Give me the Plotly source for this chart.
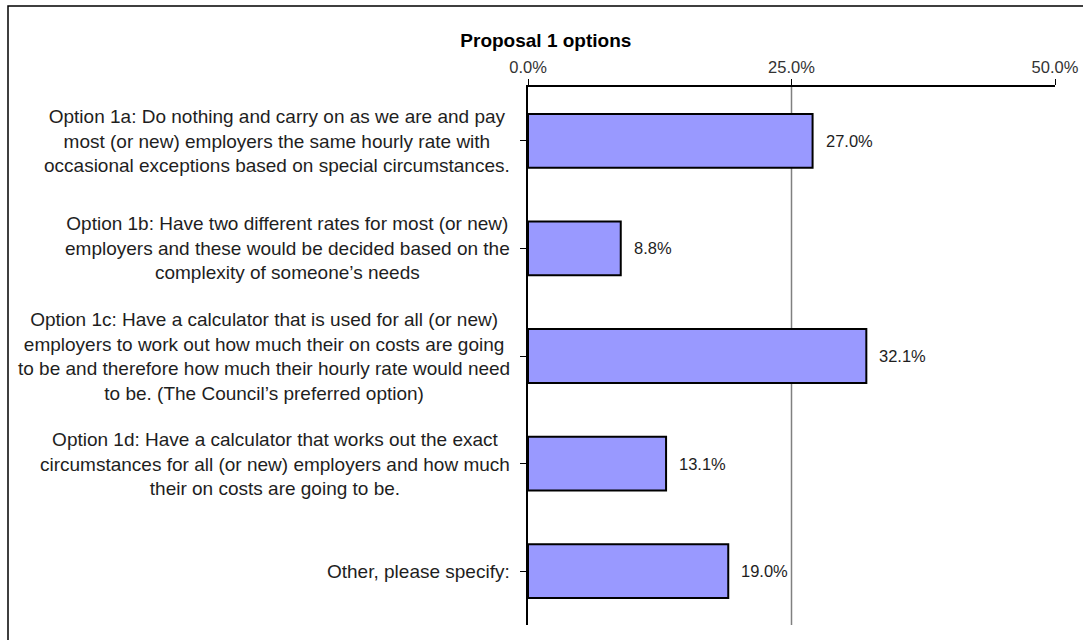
import plotly.graph_objects as go

# Survey responses for Proposal 1
categories = [
    "Option 1a: Do nothing and carry on as we are and pay<br>most (or new) employers the same hourly rate with<br>occasional exceptions based on special circumstances.",
    "Option 1b: Have two different rates for most (or new)<br>employers and these would be decided based on the<br>complexity of someone\u2019s needs",
    "Option 1c: Have a calculator that is used for all (or new)<br>employers to work out how much their on costs are going<br>to be and therefore how much their hourly rate would need<br>to be. (The Council\u2019s preferred option)",
    "Option 1d: Have a calculator that works out the exact<br>circumstances for all (or new) employers and how much<br>their on costs are going to be.",
    "Other, please specify:",
]
percentages = [27.0, 8.8, 32.1, 13.1, 19.0]
tick_values = [0, 25, 50]
tick_labels = ["0.0%", "25.0%", "50.0%"]
title_text = "Proposal 1 options"

W, H = 1083, 640
L, R, T, B = 528, 28, 87, 15
plot_w = W - L - R
plot_h = H - T - B

FONT = "Liberation Sans, Arial, sans-serif"
TEXT = "#1e1e1e"

idx = list(range(len(categories)))

fig = go.Figure()
fig.add_trace(go.Bar(
    x=percentages,
    y=idx,
    orientation="h",
    width=0.5,
    marker=dict(color="#9999FF", line=dict(color="#000000", width=2)),
    hoverinfo="skip",
))

annotations = []
# value labels just past the end of each bar
for i, v in zip(idx, percentages):
    annotations.append(dict(
        x=v, y=i, xref="x", yref="y", text=f"{v:.1f}%",
        showarrow=False, xanchor="left", yanchor="middle", xshift=11,
        font=dict(family=FONT, size=16.5, color=TEXT),
    ))
# category labels, centred text block anchored to the left of the axis
for i, c in zip(idx, categories):
    annotations.append(dict(
        x=0, y=i, xref="paper", yref="y", text=c, align="center",
        showarrow=False, xanchor="right", yanchor="middle", xshift=-16,
        font=dict(family=FONT, size=19, color=TEXT),
    ))

shapes = []
# inner gridlines at the interior tick positions
for tv in tick_values[1:-1]:
    shapes.append(dict(
        type="line", xref="x", yref="paper", x0=tv, x1=tv, y0=0, y1=1,
        line=dict(color="#808080", width=1.5), layer="below",
    ))
# chart frame (left and top edges visible)
shapes.append(dict(
    type="rect", xref="paper", yref="paper",
    x0=(8 - L) / plot_w, x1=(W + 20 - L) / plot_w,
    y0=-(B + 20) / plot_h, y1=1 + (T - 6) / plot_h,
    line=dict(color="#000000", width=1.5), fillcolor="rgba(0,0,0,0)",
))

fig.update_layout(
    width=W, height=H,
    margin=dict(l=L, r=R, t=T, b=B, pad=0, autoexpand=False),
    paper_bgcolor="white", plot_bgcolor="white",
    showlegend=False,
    bargap=0.5,
    title=dict(
        text=f"<b>{title_text}</b>", x=0.504, xref="container", xanchor="center",
        y=1 - 40 / H, yanchor="middle",
        font=dict(family=FONT, size=19, color="#000000"),
    ),
    xaxis=dict(
        side="top", range=[tick_values[0], tick_values[-1]],
        tickvals=tick_values, ticktext=tick_labels,
        ticks="outside", ticklen=6, tickcolor="#000000", tickwidth=1,
        showline=True, linecolor="#000000", linewidth=1.5,
        showgrid=False, zeroline=False,
        tickfont=dict(family=FONT, size=16.5, color="#333333"),
        fixedrange=True,
    ),
    yaxis=dict(
        range=[len(categories) - 0.5, -0.5],
        tickvals=idx, showticklabels=False,
        tickson="boundaries", ticks="outside", ticklen=6,
        tickcolor="#000000", tickwidth=1,
        showline=True, linecolor="#000000", linewidth=1.5,
        showgrid=False, zeroline=False, fixedrange=True,
    ),
    annotations=annotations,
    shapes=shapes,
)

fig.write_html("out.html")
